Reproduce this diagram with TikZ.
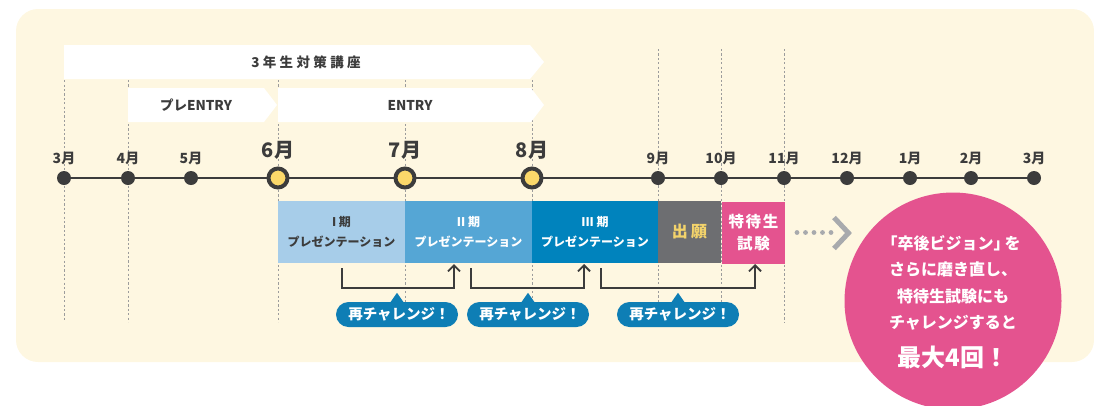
\documentclass[tikz,border=0pt]{standalone}
\usepackage{fontspec}
\setmainfont{Noto Sans CJK JP}
\newfontfamily\spacedfont{Noto Sans CJK JP}[LetterSpace=25]
\newfontfamily\tokfont{Noto Sans CJK JP}[LetterSpace=10]
\usetikzlibrary{arrows.meta,calc}
\definecolor{bgc}{HTML}{FEF7E1}
\definecolor{dk}{HTML}{3C3C3C}
\definecolor{yel}{HTML}{FBD86A}
\definecolor{dashc}{HTML}{9C9C9C}
\definecolor{bA}{HTML}{A7CDE9}
\definecolor{bB}{HTML}{55A6D5}
\definecolor{bC}{HTML}{0083BD}
\definecolor{gbox}{HTML}{6D6E71}
\definecolor{pk}{HTML}{E4538F}
\definecolor{bub}{HTML}{0E7EB5}
\definecolor{gold}{HTML}{F3D36B}
\definecolor{dotg}{HTML}{A8AAAD}
\tikzset{
  smalldot/.style={circle, fill=dk, minimum size=14pt, inner sep=0pt},
  bigdot/.style={circle, draw=dk, line width=4pt, fill=yel, minimum size=19pt, inner sep=0pt},
  mlabel/.style={font=\fontsize{14}{16}\selectfont\bfseries, text=dk, inner sep=0pt},
  blabel/.style={font=\fontsize{20}{22}\selectfont\bfseries, text=dk, inner sep=0pt},
  dashline/.style={draw=dashc, line width=0.8pt, dash pattern=on 2.2pt off 2.2pt},
  banner/.style={fill=white},
  bantext/.style={font=\fontsize{13.5}{15}\selectfont\bfseries, text=dk, inner sep=0pt},
  phase/.style={minimum height=62pt, inner sep=0pt, align=center,
    font=\fontsize{12}{20}\selectfont\bfseries},
  brk/.style={draw=dk, line width=1.8pt, -{Straight Barb[length=6pt,width=12pt,line width=1.8pt]}},
  bubble/.style={fill=bub, rounded corners=12.5pt, minimum width=122pt, minimum height=25pt,
    inner sep=0pt, text=white, font=\fontsize{14.5}{16}\selectfont\bfseries},
  gdot/.style={circle, fill=dotg, minimum size=4.8pt, inner sep=0pt},
  ctext/.style={text=white, font=\fontsize{16}{18}\selectfont\bfseries, inner sep=0pt}
}
\begin{document}
\begin{tikzpicture}[x=1pt,y=-1pt]
\useasboundingbox (0,0) rectangle (1094,405);
\fill[bgc, rounded corners=22pt] (16,9) rectangle (1094,362);
% dashed guide lines
\foreach \x/\t in {64/45,128/80,278/80,405/80,532/80,658/49,721/49,784/49}
  \draw[dashline] (\x,\t) -- (\x,322);
% banners
\fill[banner] (64,45) -- (530,45) -- (544,62) -- (530,79) -- (64,79) -- cycle;
\fill[banner] (128,88) -- (264,88) -- (277,105) -- (264,122) -- (128,122) -- cycle;
\fill[banner] (278,88) -- (531,88) -- (544,105) -- (531,122) -- (278,122) -- cycle;
\node[bantext] (ban1) at (306,62) {\spacedfont 3年生対策講座};
\node[bantext] (ban2) at (196,105) {プレENTRY};
\node[bantext] (ban3) at (410,105) {ENTRY};
% timeline
\coordinate (tl0) at (64,178);
\coordinate (tl1) at (1034,178);
\draw[dk, line width=2.4pt] (tl0) -- (tl1);
\foreach \n/\x/\l in {m3/64/3月, m4/128/4月, m5/191/5月, m9/658/9月, m10/721/10月, m11/784/11月, m12/847/12月, m1/910/1月, m2/971/2月, m3b/1034/3月}{
  \node[smalldot] (\n) at (\x,178) {};
  \node[mlabel] (\n l) at (\x,158) {\l};
}
\foreach \n/\x/\l in {m6/278/6月, m7/405/7月, m8/532/8月}{
  \node[bigdot] (\n) at (\x,178) {};
  \node[blabel] (\n l) at (\x,150) {\l};
}
% phase boxes
\node[phase, fill=bA, text=dk, minimum width=127pt] (p1) at (341.5,232) {I 期\\プレゼンテーション};
\node[phase, fill=bB, text=white, minimum width=127pt] (p2) at (468.5,232) {II 期\\プレゼンテーション};
\node[phase, fill=bC, text=white, minimum width=126pt] (p3) at (595,232) {III 期\\プレゼンテーション};
\node[phase, fill=gbox, text=gold, minimum width=63pt, font=\fontsize{16}{22}\selectfont\bfseries] (p4) at (689.5,232) {出\hspace{3.5pt}願};
\node[phase, fill=pk, text=white, minimum width=63pt, font=\tokfont\fontsize{15.5}{22}\selectfont\bfseries] (p5) at (753.5,233) {特待生\\試験};
% brackets
\coordinate (k1a) at (342,268); \coordinate (k1b) at (454,288); \coordinate (k1c) at (454,264);
\coordinate (k2a) at (471,268); \coordinate (k2b) at (584,288); \coordinate (k2c) at (584,264);
\coordinate (k3a) at (601,268); \coordinate (k3b) at (755,288); \coordinate (k3c) at (755,264);
\draw[brk] (k1a) |- (k1b) -- (k1c);
\draw[brk] (k2a) |- (k2b) -- (k2c);
\draw[brk] (k3a) |- (k3b) -- (k3c);
% bubbles
\foreach \n/\x in {r1/397, r2/528, r3/678}{
  \node[bubble] (\n) at (\x,314.5) {\hspace{4pt}再チャレンジ！};
  \fill[bub] ([xshift=-7pt,yshift=-1pt]\n.north) -- ([yshift=9pt]\n.north) -- ([xshift=7pt,yshift=-1pt]\n.north) -- cycle;
}
% dotted arrow
\foreach \i/\x in {g1/797, g2/805.5, g3/814, g4/822.5, g5/831}
  \node[gdot] (\i) at (\x,232.5) {};
\coordinate (ch0) at (834,217.5);
\coordinate (ch1) at (848.5,233);
\coordinate (ch2) at (834,248.5);
\draw[dotg, line width=5pt, miter limit=10] (ch0) -- (ch1) -- (ch2);
% pink circle
\node[circle, fill=pk, minimum size=217pt, inner sep=0pt] (circ) at (953,301) {};
\node[ctext] (c1) at (951,243) {「卒後ビジョン」\kern-5pt を};
\node[ctext] (c2) at (953,269.5) {さらに磨き直し、};
\node[ctext] (c3) at (953,296) {特待生試験にも};
\node[ctext] (c4) at (953,323) {チャレンジすると};
\node[ctext, font=\fontsize{24}{26}\selectfont\bfseries] (c5) at (953,357) {最大4回！};
\end{tikzpicture}
\end{document}
